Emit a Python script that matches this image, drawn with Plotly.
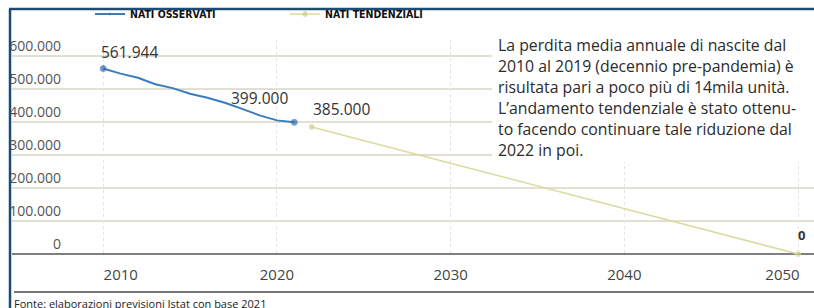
import plotly.graph_objects as go

# ---------------- data ----------------
obs_years = [2010, 2011, 2012, 2013, 2014, 2015, 2016, 2017, 2018, 2019, 2020, 2021]
obs_births = [561944, 546607, 534186, 514308, 502596, 485780, 473438, 458151, 439747, 420084, 404892, 399000]

trend_years = [2022, 2050]
trend_births = [385000, 0]

y_ticks = [0, 100000, 200000, 300000, 400000, 500000, 600000]
y_tick_labels = ["0", "100.000", "200.000", "300.000", "400.000", "500.000", "600.000"]
x_ticks = [2010, 2020, 2030, 2040, 2050]
x_tick_labels = ["2010", "2020", "2030", "2040", "2050"]

series_names = ["NATI OSSERVATI", "NATI TENDENZIALI"]
note_lines = [
    "La perdita media annuale di nascite dal",
    "2010 al 2019 (decennio pre-pandemia) è",
    "risultata pari a poco più di 14mila unità.",
    "L’andamento tendenziale è stato ottenu-",
    "to facendo continuare tale riduzione dal",
    "2022 in poi.",
]
source_text = "Fonte: elaborazioni previsioni Istat con base 2021"

# ---------------- layout geometry ----------------
W, H = 814, 308
ML, MR, MT, MB = 65, 9, 40, 52
PW = W - ML - MR
PH = H - MT - MB


def px_x(px):
    return (px - ML) / PW


def px_y(py):
    return (H - MB - py) / PH


BLUE = "#3b7cbd"
YELLOW = "#d9dba0"
GRID = "#c4bfa6"
NAVY = "#1d4b74"
TXT = "#333333"

fig = go.Figure()

n_obs = len(obs_years)
fig.add_trace(go.Scatter(
    x=obs_years, y=obs_births, name="<b>" + series_names[0] + "</b>",
    mode="lines+markers",
    line=dict(color=BLUE, width=2),
    marker=dict(color="#2e6aa8", size=[6] + [0] * (n_obs - 2) + [6]),
    cliponaxis=False,
))
fig.add_trace(go.Scatter(
    x=trend_years, y=trend_births, name="<b>" + series_names[1] + "</b>",
    mode="lines+markers",
    line=dict(color=YELLOW, width=1.6),
    marker=dict(color="#c9cc88", size=[5, 5]),
    cliponaxis=False,
))

shapes = []
# horizontal gridlines extended across the card
for v in y_ticks:
    shapes.append(dict(
        type="line", xref="paper", yref="y",
        x0=px_x(12), x1=px_x(814), y0=v, y1=v,
        line=dict(color="#555555" if v == 0 else GRID, width=1.6 if v == 0 else 1),
        layer="below",
    ))
# white box behind the note
shapes.append(dict(type="rect", xref="paper", yref="paper",
                   x0=px_x(492), x1=px_x(814), y0=px_y(162), y1=px_y(32),
                   fillcolor="white", line=dict(width=0), layer="above"))
# footer rule
shapes.append(dict(type="line", xref="paper", yref="paper",
                   x0=px_x(14), x1=px_x(814), y0=px_y(292), y1=px_y(292),
                   line=dict(color="#4a4a4a", width=1.5)))
# card border (left + top)
shapes.append(dict(type="line", xref="paper", yref="paper",
                   x0=px_x(10), x1=px_x(10), y0=px_y(308), y1=px_y(9),
                   line=dict(color=NAVY, width=2.5)))
shapes.append(dict(type="line", xref="paper", yref="paper",
                   x0=px_x(9), x1=px_x(814), y0=px_y(9), y1=px_y(9),
                   line=dict(color=NAVY, width=2.5)))

annotations = []
lab_font = dict(family="Open Sans, sans-serif", size=15.5, color=TXT)
annotations.append(dict(x=obs_years[0], y=obs_births[0], xref="x", yref="y",
                        text="561.944", showarrow=False, xanchor="left", yanchor="bottom",
                        xshift=-4, yshift=4, font=lab_font))
annotations.append(dict(x=obs_years[-1], y=obs_births[-1], xref="x", yref="y",
                        text="399.000", showarrow=False, xanchor="right", yanchor="bottom",
                        xshift=-4, yshift=11, font=lab_font))
annotations.append(dict(x=trend_years[0], y=trend_births[0], xref="x", yref="y",
                        text="385.000", showarrow=False, xanchor="left", yanchor="bottom",
                        xshift=-1, yshift=5, font=lab_font))
annotations.append(dict(x=trend_years[-1], y=trend_births[-1], xref="x", yref="y",
                        text="<b>0</b>", showarrow=False, xanchor="center", yanchor="bottom",
                        xshift=3, yshift=8, font=dict(family="Open Sans, sans-serif", size=13, color=TXT)))

note_font = dict(family="Open Sans, sans-serif", size=15.8, color="#2b2b2b")
for i, line in enumerate(note_lines):
    annotations.append(dict(x=px_x(496), y=px_y(45 + i * 21), xref="paper", yref="paper",
                            text=line, showarrow=False, xanchor="left", yanchor="middle",
                            font=note_font))

annotations.append(dict(x=px_x(12), y=px_y(303), xref="paper", yref="paper",
                        text=source_text, showarrow=False, xanchor="left", yanchor="middle",
                        font=dict(family="Open Sans, sans-serif", size=11, color="#222222")))

# x tick texts: the first and last labels sit slightly inward in the original
NB = "\u00a0"
x_tick_text = list(x_tick_labels)
x_tick_text[0] = NB * 9 + x_tick_text[0]
x_tick_text[-1] = x_tick_text[-1] + NB * 8

fig.update_layout(
    width=W, height=H,
    margin=dict(l=ML, r=MR, t=MT, b=MB, pad=0, autoexpand=False),
    paper_bgcolor="white", plot_bgcolor="white",
    showlegend=True,
    legend=dict(orientation="h", x=px_x(90), y=px_y(14), xanchor="left", yanchor="middle",
                entrywidth=150, entrywidthmode="pixels",
                font=dict(family="Liberation Sans Narrow, DejaVu Sans Condensed, sans-serif",
                          size=10.5, color="#111111"),
                bgcolor="rgba(0,0,0,0)", itemwidth=30),
    xaxis=dict(range=[2007.8, 2050.4], tickvals=x_ticks, ticktext=x_tick_text,
               showgrid=True, gridcolor="#e4e4da", griddash="dot", gridwidth=1,
               zeroline=False, showline=False, ticks="",
               ticklabeloverflow="allow",
               tickfont=dict(family="Open Sans, sans-serif", size=15, color="#444444"),
               ticklabelstandoff=8),
    yaxis=dict(range=[-6060, 648485], tickvals=y_ticks, ticktext=y_tick_labels,
               showgrid=False, zeroline=False, showline=False, ticks="",
               ticklabelposition="outside top",
               tickfont=dict(family="Open Sans, sans-serif", size=14, color="#555555"),
               ticklabelstandoff=3),
    shapes=shapes,
    annotations=annotations,
)

fig.write_html(
    "out.html",
    config={"displayModeBar": False},
    post_script="document.body.style.margin='0';document.body.style.overflow='hidden';",
)
